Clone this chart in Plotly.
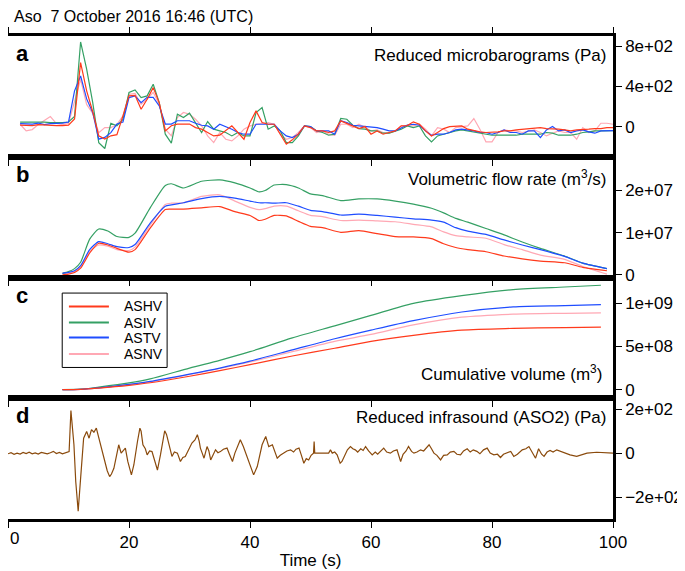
import plotly.graph_objects as go
from plotly.subplots import make_subplots

# ---- data ----
# (a) reduced microbarograms, Pa, 1 s samples from t=2 to t=100
t_a = list(range(2, 101))
mb_ashv = [15, 15, 10, 20, 15, 10, 10, 10, 15, 75, 636, 355, 150, -92, -125, -92, -80, 106, 305, 310,
           172, 272, 387, 238, -43, 8, 25, 25, 25, -10, -26, -60, -93, -86, -43, 7, -59, -126, 40, 156,
           40, 23, 23, -76, -175, -132, -76, 7, -10, -43, -43, -59, -43, 57, 33, 7, -20, 0, -76, -43,
           -76, -59, -43, 7, 10, 47, 23, -43, -93, -59, -20, 0, 7, 7, -26, -43, -53, -59, -59, -53,
           -43, -43, -33, -26, -20, -10, -10, -20, -20, -26, -33, -43, -33, -26, -26, -20, -20, -10, -10]
mb_asiv = [45, 45, 48, 50, 45, 40, 38, 40, 45, 100, 841, 570, 240, -160, -218, 33, 8, 70, 338, 364,
           288, 305, 420, 238, -76, -165, 123, 90, 133, 33, -60, 50, -26, -43, -59, -93, -59, -93, -93, 139,
           189, -26, 7, -43, -159, -159, -93, 7, 0, -43, -59, -86, -76, 80, 73, 13, -20, -26, -43, -43,
           -66, -66, -43, -26, 7, -10, 7, -93, -152, -93, -76, -59, -43, -33, -43, -53, -66, -76, -86, -86,
           -86, -86, -86, -76, -76, -76, -76, -59, -66, -86, -86, -86, -76, -59, -53, -43, -43, -40, -40]
mb_astv = [30, 30, 25, 35, 20, 30, 30, 35, 45, 355, 503, 275, 140, -125, -108, -60, 25, 45, 288, 305,
           238, 290, 290, 205, 25, 25, 58, 58, 58, 33, 13, 7, -26, 23, 0, -26, -59, -76, -76, 23,
           23, 23, 23, -43, -93, -109, -76, 7, 0, -43, -43, -43, -76, 57, 40, 13, 7, 0, 0, -10,
           -26, -43, -43, -10, 15, 23, 13, -43, -86, -76, -76, -59, -33, -26, -33, -43, -59, -59, -76, -59,
           -33, -59, -59, -76, -43, -43, -109, -33, 0, -43, -33, -59, -43, -33, -53, -66, -43, -40, -40]
mb_asnv = [23, -43, -30, 20, 60, 100, 30, 20, 30, 250, 470, 220, 130, -60, -10, -10, 20, 106, 320, 330,
           220, 272, 340, 220, -26, -92, 90, 140, 123, 73, 8, -93, -159, -60, -126, -142, -93, -26, 7, 23,
           33, 40, 23, -76, -126, -109, -59, 7, -10, -59, -43, -76, -86, 23, 23, -10, 23, -10, -43, -33,
           -59, -66, -43, 7, 10, 7, 23, -26, -93, -10, -26, -59, -10, 0, 7, 80, -26, -152, -152, -59,
           -33, -43, -43, -59, -43, -33, -59, -93, -66, -43, -59, -59, -126, -10, -59, -43, 33, 33, 23]

# (b) volumetric flow rate, units of 1e7 m3/s
t_b = [9, 10, 11, 12, 13.5, 15, 16.5, 18, 20, 21, 23.5, 26, 27, 29, 32, 35, 37.5, 40, 41.5, 42.5,
       44, 46, 48, 50, 52, 55, 58, 61, 64, 67, 70, 72, 74, 76, 79, 82, 85, 88, 92, 95, 99]
fr_ashv = [0.0, 0.02, 0.06, 0.16, 0.52, 0.75, 0.71, 0.63, 0.54, 0.6, 1.11, 1.55, 1.56, 1.56, 1.59, 1.62,
           1.5, 1.41, 1.29, 1.32, 1.41, 1.4, 1.27, 1.15, 1.12, 1.01, 1.05, 0.98, 0.91, 0.9, 0.86, 0.74,
           0.65, 0.6, 0.55, 0.45, 0.38, 0.33, 0.29, 0.18, 0.1]
fr_asiv = [0.04, 0.08, 0.15, 0.3, 0.85, 1.09, 1.04, 0.91, 0.89, 0.99, 1.59, 2.12, 2.16, 2.06, 2.22, 2.25,
           2.18, 2.06, 1.97, 2.0, 2.13, 2.14, 2.06, 1.92, 1.88, 1.76, 1.8, 1.8, 1.75, 1.68, 1.58, 1.47,
           1.34, 1.25, 1.1, 0.95, 0.78, 0.63, 0.45, 0.28, 0.15]
fr_astv = [0.04, 0.06, 0.1, 0.22, 0.6, 0.79, 0.74, 0.67, 0.65, 0.72, 1.23, 1.63, 1.66, 1.71, 1.81, 1.86,
           1.82, 1.75, 1.71, 1.71, 1.7, 1.71, 1.63, 1.53, 1.5, 1.42, 1.44, 1.41, 1.37, 1.33, 1.3, 1.25,
           1.12, 1.04, 0.96, 0.83, 0.71, 0.6, 0.44, 0.28, 0.15]
fr_asnv = [0.04, 0.05, 0.08, 0.2, 0.55, 0.71, 0.68, 0.6, 0.58, 0.66, 1.18, 1.67, 1.7, 1.71, 1.86, 1.9,
           1.75, 1.6, 1.55, 1.57, 1.63, 1.63, 1.52, 1.41, 1.38, 1.29, 1.3, 1.28, 1.26, 1.2, 1.14, 1.02,
           0.93, 0.9, 0.87, 0.72, 0.6, 0.47, 0.37, 0.2, 0.02]
FLOW_UNIT = 1e7

# (c) cumulative volume, units of 1e9 m3
t_c = [9, 12, 15, 20, 23.5, 30, 35, 40, 47, 54, 60, 67, 75, 83.5, 92, 98]
cv_ashv = [0, 0.003, 0.018, 0.05, 0.08, 0.155, 0.22, 0.29, 0.39, 0.48, 0.56, 0.63, 0.69, 0.71, 0.72, 0.725]
cv_asiv = [0, 0.005, 0.03, 0.078, 0.124, 0.25, 0.34, 0.44, 0.6, 0.74, 0.86, 1.0, 1.09, 1.16, 1.19, 1.21]
cv_astv = [0, 0.004, 0.02, 0.06, 0.095, 0.18, 0.25, 0.33, 0.46, 0.59, 0.69, 0.8, 0.9, 0.96, 0.975, 0.985]
cv_asnv = [0, 0.004, 0.02, 0.058, 0.09, 0.175, 0.245, 0.32, 0.44, 0.56, 0.64, 0.75, 0.84, 0.875, 0.885, 0.89]
VOL_UNIT = 1e9

# (d) reduced infrasound at ASO2, Pa
t_d = [0, 0.5, 1, 1.5, 2, 2.5, 3, 3.5, 4, 4.5, 5, 5.5, 6, 6.5, 7, 7.5, 8, 8.5, 9, 9.5,
       10.1, 10.4, 10.9, 11.2, 11.6, 12, 12.5, 13, 13.4, 13.8, 14.2, 14.6, 15.2, 15.6, 16, 16.4, 16.8,
       17.1, 17.5, 17.9, 18.3, 18.7, 19.1, 19.4, 19.8, 20.1, 20.4, 20.8, 21.1, 21.4, 21.8, 22.0, 22.3,
       22.7, 23, 23.4, 23.8, 24.2, 24.7, 25.2, 25.6, 25.9, 26.2, 26.6, 27.1, 27.5, 28, 28.5, 28.9, 29.3,
       29.8, 30.4, 30.9, 31.3, 31.6, 31.8, 32.1, 32.4, 32.9, 33.2, 33.5, 33.9, 34.3, 34.7, 35.1, 35.6,
       36.2, 36.6, 37.1, 37.5, 37.9, 38.4, 38.9, 39.5, 40.0, 40.6, 41.2, 41.6, 42, 42.6, 43.1, 43.7,
       44.1, 44.5, 45, 45.6, 46.1, 46.7, 47.2, 47.6, 48.1, 48.5, 48.9, 49.3, 49.7, 50.1, 50.5, 50.6,
       50.7, 53, 53.3, 53.6, 54, 54.4, 54.9, 55.2, 55.7, 56.1, 56.6, 57, 57.4, 57.8, 58.3, 58.7, 59.1,
       59.6, 60.2, 60.7, 61.1, 61.6, 62.1, 62.6, 63.2, 63.7, 64.3, 64.9, 65.3, 65.8, 66.2, 66.7, 67.1,
       67.6, 68.2, 68.7, 69.2, 69.6, 70, 70.4, 70.9, 71.5, 72, 72.6, 73.1, 73.7, 74.2, 74.8, 75.3, 75.9,
       76.4, 76.9, 77.5, 78, 78.6, 79.2, 79.7, 80.3, 80.9, 81.4, 81.9, 82.5, 83.1, 83.6, 84.2, 85, 85.6,
       86.1, 86.6, 87.2, 87.7, 88.2, 88.6, 89.1, 89.6, 90.1, 90.7, 91.2, 91.8, 92.9, 94, 95.7, 97.3,
       98.5, 100]
p_d = [-3, 2, -5, 0, -4, 3, -2, 4, -3, 1, -4, 3, 0, -3, 2, 8, -2, 3, -3, 0,
       7, 194, 38, -130, -264, -115, 68, 99, 68, 107, 95, 114, 46, 5, -38, -80, -107,
       -95, -69, -10, 38, 0, 15, 23, -38, -75, -99, -54, 10, 53, 114, 100, 38,
       20, -8, 10, 7, -30, -77, -8, 60, 102, 85, 38, -15, 5, 0, -38, -20, -15,
       15, 46, 60, 84, 55, 23, 0, -23, 30, 10, -31, -5, 15, 2, 7, 18,
       23, -5, -38, 0, 30, 61, 30, -15, -60, -99, -61, -5, 38, 76, 30, 38,
       5, -23, -10, 0, 10, 15, 5, 18, 23, -10, -46, -25, -31, -10, 0, 53,
       0, 0, 15, 0, 5, -8, -46, -38, -10, 15, 30, 20, 15, 5, 20, 12, 30,
       10, -8, 5, -5, 10, 23, 5, 0, 10, 15, -38, -5, 10, 30, 8, 0,
       5, 15, 10, 25, 38, 20, 0, -10, -31, -10, -8, 5, 8, -5, -8, 10, 20,
       5, 15, 8, -3, 15, 23, 0, -8, -5, -20, -5, 0, 8, -15, -5, 15, 20,
       30, 5, -23, 20, -5, -15, 5, 12, 5, 15, 10, 3, -8, -15, 0, 4,
       2, 0]

# axis ticks (the "0" time label sits on the page edge, so it is written separately below)
x_ticks = [0, 20, 40, 60, 80, 100]
x_ticktext = ['', '20', '40', '60', '80', '100']
a_tickvals, a_ticktext = [0, 400, 800], ['0', '4e+02', '8e+02']
b_tickvals, b_ticktext = [0, 1e7, 2e7], ['0', '1e+07', '2e+07']
c_tickvals, c_ticktext = [0, 5e8, 1e9], ['0', '5e+08', '1e+09']
d_tickvals, d_ticktext = [-200, 0, 200], ['\u22122e+02', '0', '2e+02']

names = ['ASHV', 'ASIV', 'ASTV', 'ASNV']
colors = {'ASHV': '#ff3a1c', 'ASIV': '#35a064', 'ASTV': '#1f4dff', 'ASNV': '#ffa8b4'}
draw_order = ['ASNV', 'ASIV', 'ASTV', 'ASHV']

mb = dict(zip(names, [mb_ashv, mb_asiv, mb_astv, mb_asnv]))
fr = dict(zip(names, [fr_ashv, fr_asiv, fr_astv, fr_asnv]))
cv = dict(zip(names, [cv_ashv, cv_asiv, cv_astv, cv_asnv]))

FONT = 'Liberation Sans, Arial, Helvetica, sans-serif'

fig = make_subplots(rows=4, cols=1, shared_xaxes=True, vertical_spacing=0)

for n in draw_order:
    fig.add_trace(go.Scatter(x=t_a, y=mb[n], mode='lines', line=dict(color=colors[n], width=1.2),
                             showlegend=False, hoverinfo='skip'), row=1, col=1)
    fig.add_trace(go.Scatter(x=t_b, y=[v * FLOW_UNIT for v in fr[n]], mode='lines',
                             line=dict(color=colors[n], width=1.2, shape='spline', smoothing=0.6),
                             showlegend=False, hoverinfo='skip'), row=2, col=1)
    fig.add_trace(go.Scatter(x=t_c, y=[v * VOL_UNIT for v in cv[n]], mode='lines',
                             line=dict(color=colors[n], width=1.2, shape='spline', smoothing=0.8),
                             showlegend=False, hoverinfo='skip'), row=3, col=1)

fig.add_trace(go.Scatter(x=t_d, y=p_d, mode='lines', line=dict(color='#8a4a0c', width=1.2),
                         showlegend=False, hoverinfo='skip'), row=4, col=1)

# axes styling: heavy frame, ticks outside, labels on the right
ranges = [(-300, 900), (-0.6e6, 2.8e7), (-1e8, 1.3e9), (-300, 250)]
yticks = [(a_tickvals, a_ticktext), (b_tickvals, b_ticktext), (c_tickvals, c_ticktext), (d_tickvals, d_ticktext)]
for i in range(4):
    r = i + 1
    fig.update_xaxes(range=[0, 100], tickvals=x_ticks, ticktext=x_ticktext, ticks='outside', ticklen=6,
                     tickwidth=1.2, tickcolor='black', showline=True, linewidth=2.5, linecolor='black',
                     mirror='ticks' if r == 1 else True, showgrid=False, zeroline=False,
                     showticklabels=(r == 4), automargin=False, tickfont=dict(size=17), row=r, col=1)
    fig.update_yaxes(range=list(ranges[i]), tickvals=yticks[i][0], ticktext=yticks[i][1], side='right',
                     ticks='outside', ticklen=6, tickwidth=1.2, tickcolor='black', showline=True,
                     linewidth=2.5, linecolor='black', mirror=True, showgrid=False, zeroline=False,
                     automargin=False, tickfont=dict(size=17), row=r, col=1)

fig.update_xaxes(title=dict(text='Time (s)', standoff=3, font=dict(size=17)), row=4, col=1)
fig.add_annotation(x=0, y=0, xref='x4', yref='y4 domain', xanchor='left', yanchor='top', yshift=-8,
                   text='0', showarrow=False, font=dict(size=17, color='black'))

# panel letters and panel titles
letters = ['a', 'b', 'c', 'd']
titles = ['Reduced microbarograms (Pa)', 'Volumetric flow rate (m<sup>3</sup>/s)', None,
          'Reduced infrasound (ASO2) (Pa)']
for i in range(4):
    yref = 'y domain' if i == 0 else 'y%d domain' % (i + 1)
    xref = 'x domain' if i == 0 else 'x%d domain' % (i + 1)
    fig.add_annotation(x=0, y=1, xref=xref, yref=yref, xanchor='left', yanchor='top', xshift=6, yshift=-3,
                       text='<b>%s</b>' % letters[i], showarrow=False, font=dict(size=22, color='black'))
    if titles[i]:
        fig.add_annotation(x=1, y=1, xref=xref, yref=yref, xanchor='right', yanchor='top', xshift=-5,
                           yshift=-8, text=titles[i], showarrow=False, font=dict(size=17, color='black'))
fig.add_annotation(x=1, y=0, xref='x3 domain', yref='y3 domain', xanchor='right', yanchor='bottom',
                   xshift=-9, yshift=12, text='Cumulative volume (m<sup>3</sup>)', showarrow=False,
                   font=dict(size=17, color='black'))

# legend box drawn in panel c
leg_rows = [0.760, 0.627, 0.503, 0.366]
fig.add_shape(type='rect', xref='x3 domain', yref='y3 domain', x0=0.0896, x1=0.263, y0=0.255, y1=0.871,
              line=dict(color='black', width=1), fillcolor='white', layer='above')
for n, yy in zip(names, leg_rows):
    fig.add_shape(type='line', xref='x3 domain', yref='y3 domain', x0=0.1007, x1=0.1668, y0=yy, y1=yy,
                  line=dict(color=colors[n], width=2), layer='above')
    fig.add_annotation(x=0.189, y=yy, xref='x3 domain', yref='y3 domain', xanchor='left', yanchor='middle',
                       text=n, showarrow=False, font=dict(size=14, color='black'))

fig.add_annotation(x=0, y=1, xref='paper', yref='paper', xanchor='left', yanchor='top', xshift=4,
                   yshift=30, text='Aso  7 October 2016 16:46 (UTC)', showarrow=False,
                   font=dict(size=16, color='black'))

# the page body adds an 8 px margin on the left and top, so the margins are shifted by 8 px
fig.update_layout(
    width=685, height=571,
    margin=dict(l=0, r=80, t=28, b=60, autoexpand=False),
    paper_bgcolor='white', plot_bgcolor='white',
    font=dict(family=FONT, size=15, color='black'),
    showlegend=False,
)

fig.write_html("out.html")
